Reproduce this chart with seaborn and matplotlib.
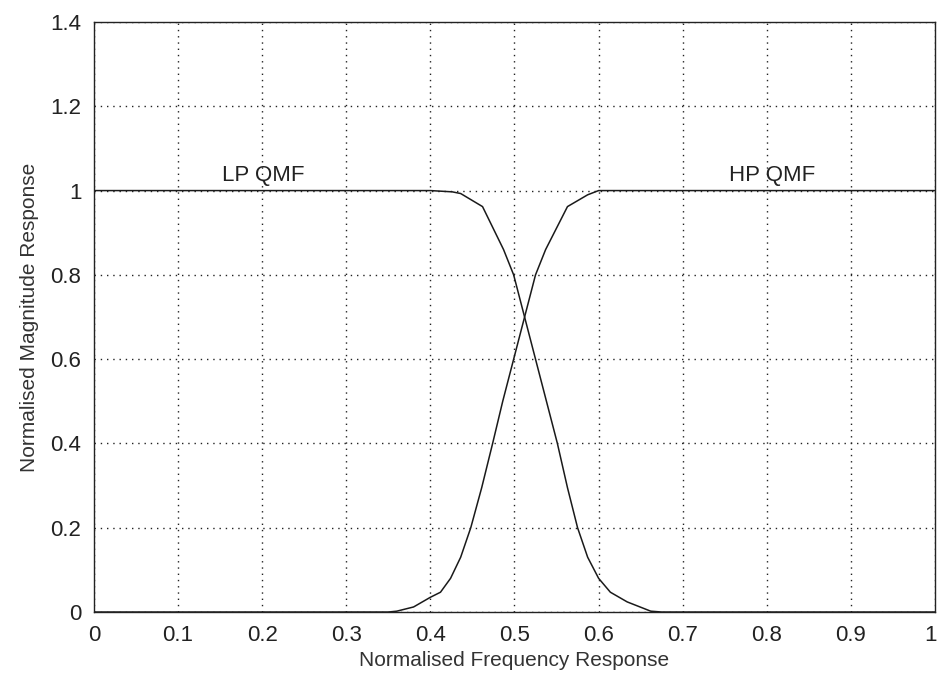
import matplotlib
matplotlib.use("Agg")
import matplotlib.pyplot as plt
import matplotlib.transforms as mtransforms
import seaborn as sns
import pandas as pd

# Low-pass QMF response
lp_freq = [0.0, 0.40, 0.426, 0.436, 0.462, 0.487, 0.499, 0.512, 0.525, 0.538, 0.551, 0.563, 0.575, 0.587, 0.60, 0.614, 0.634, 0.662, 0.675, 1.0]
lp_mag = [1.0, 1.0, 0.997, 0.993, 0.962, 0.86, 0.80, 0.70, 0.60, 0.50, 0.40, 0.295, 0.20, 0.13, 0.08, 0.047, 0.024, 0.002, 0.0, 0.0]

# High-pass QMF response
hp_freq = [0.0, 0.35, 0.36, 0.38, 0.40, 0.412, 0.424, 0.436, 0.448, 0.461, 0.474, 0.486, 0.499, 0.512, 0.525, 0.537, 0.563, 0.587, 0.60, 1.0]
hp_mag = [0.0, 0.0, 0.002, 0.012, 0.035, 0.047, 0.08, 0.13, 0.20, 0.295, 0.40, 0.50, 0.60, 0.70, 0.80, 0.86, 0.962, 0.99, 1.0, 1.0]

x_ticks = [0, 0.1, 0.2, 0.3, 0.4, 0.5, 0.6, 0.7, 0.8, 0.9, 1]
x_ticklabels = ["0", "0.1", "0.2", "0.3", "0.4", "0.5", "0.6", "0.7", "0.8", "0.9", "1"]
y_ticks = [0, 0.2, 0.4, 0.6, 0.8, 1.0, 1.2, 1.4]
y_ticklabels = ["0", "0.2", "0.4", "0.6", "0.8", "1", "1.2", "1.4"]

sns.set_style("white")
plt.rcParams["font.family"] = ["Liberation Sans", "DejaVu Sans"]

fig = plt.figure(figsize=(9.38, 6.75), dpi=100)
ax = fig.add_axes([0.1002, 0.0933, 0.8966, 0.8741])

lp = pd.DataFrame({"freq": lp_freq, "mag": lp_mag})
hp = pd.DataFrame({"freq": hp_freq, "mag": hp_mag})
sns.lineplot(data=lp, x="freq", y="mag", ax=ax, color="#1a1a1a", linewidth=1.1, sort=False, estimator=None)
sns.lineplot(data=hp, x="freq", y="mag", ax=ax, color="#1a1a1a", linewidth=1.1, sort=False, estimator=None)

ax.set_xlim(0, 1)
ax.set_ylim(0, 1.4)
ax.set_xticks(x_ticks)
ax.set_xticklabels(x_ticklabels)
ax.set_yticks(y_ticks)
ax.set_yticklabels(y_ticklabels)
ax.tick_params(direction="in", length=5, width=0.8, labelsize=16, colors="#222222", pad=9)
ax.grid(True, color="#222222", linestyle=(0, (1, 3.5)), linewidth=1.0)
for s in ax.spines.values():
    s.set_color("#222222")
    s.set_linewidth(1.0)

# keep the last x tick label inside the figure
last = ax.get_xticklabels()[-1]
last.set_transform(last.get_transform() + mtransforms.ScaledTranslation(-4 / 100, 0, fig.dpi_scale_trans))

ax.set_xlabel("Normalised Frequency Response", fontsize=15, color="#333333", labelpad=4)
ax.set_ylabel("Normalised Magnitude Response", fontsize=15, color="#333333", labelpad=8)

ax.text(0.152, 1.01, "LP QMF", fontsize=16, color="#222222", ha="left", va="bottom")
ax.text(0.755, 1.01, "HP QMF", fontsize=16, color="#222222", ha="left", va="bottom")

fig.savefig("out.png", dpi=100)
